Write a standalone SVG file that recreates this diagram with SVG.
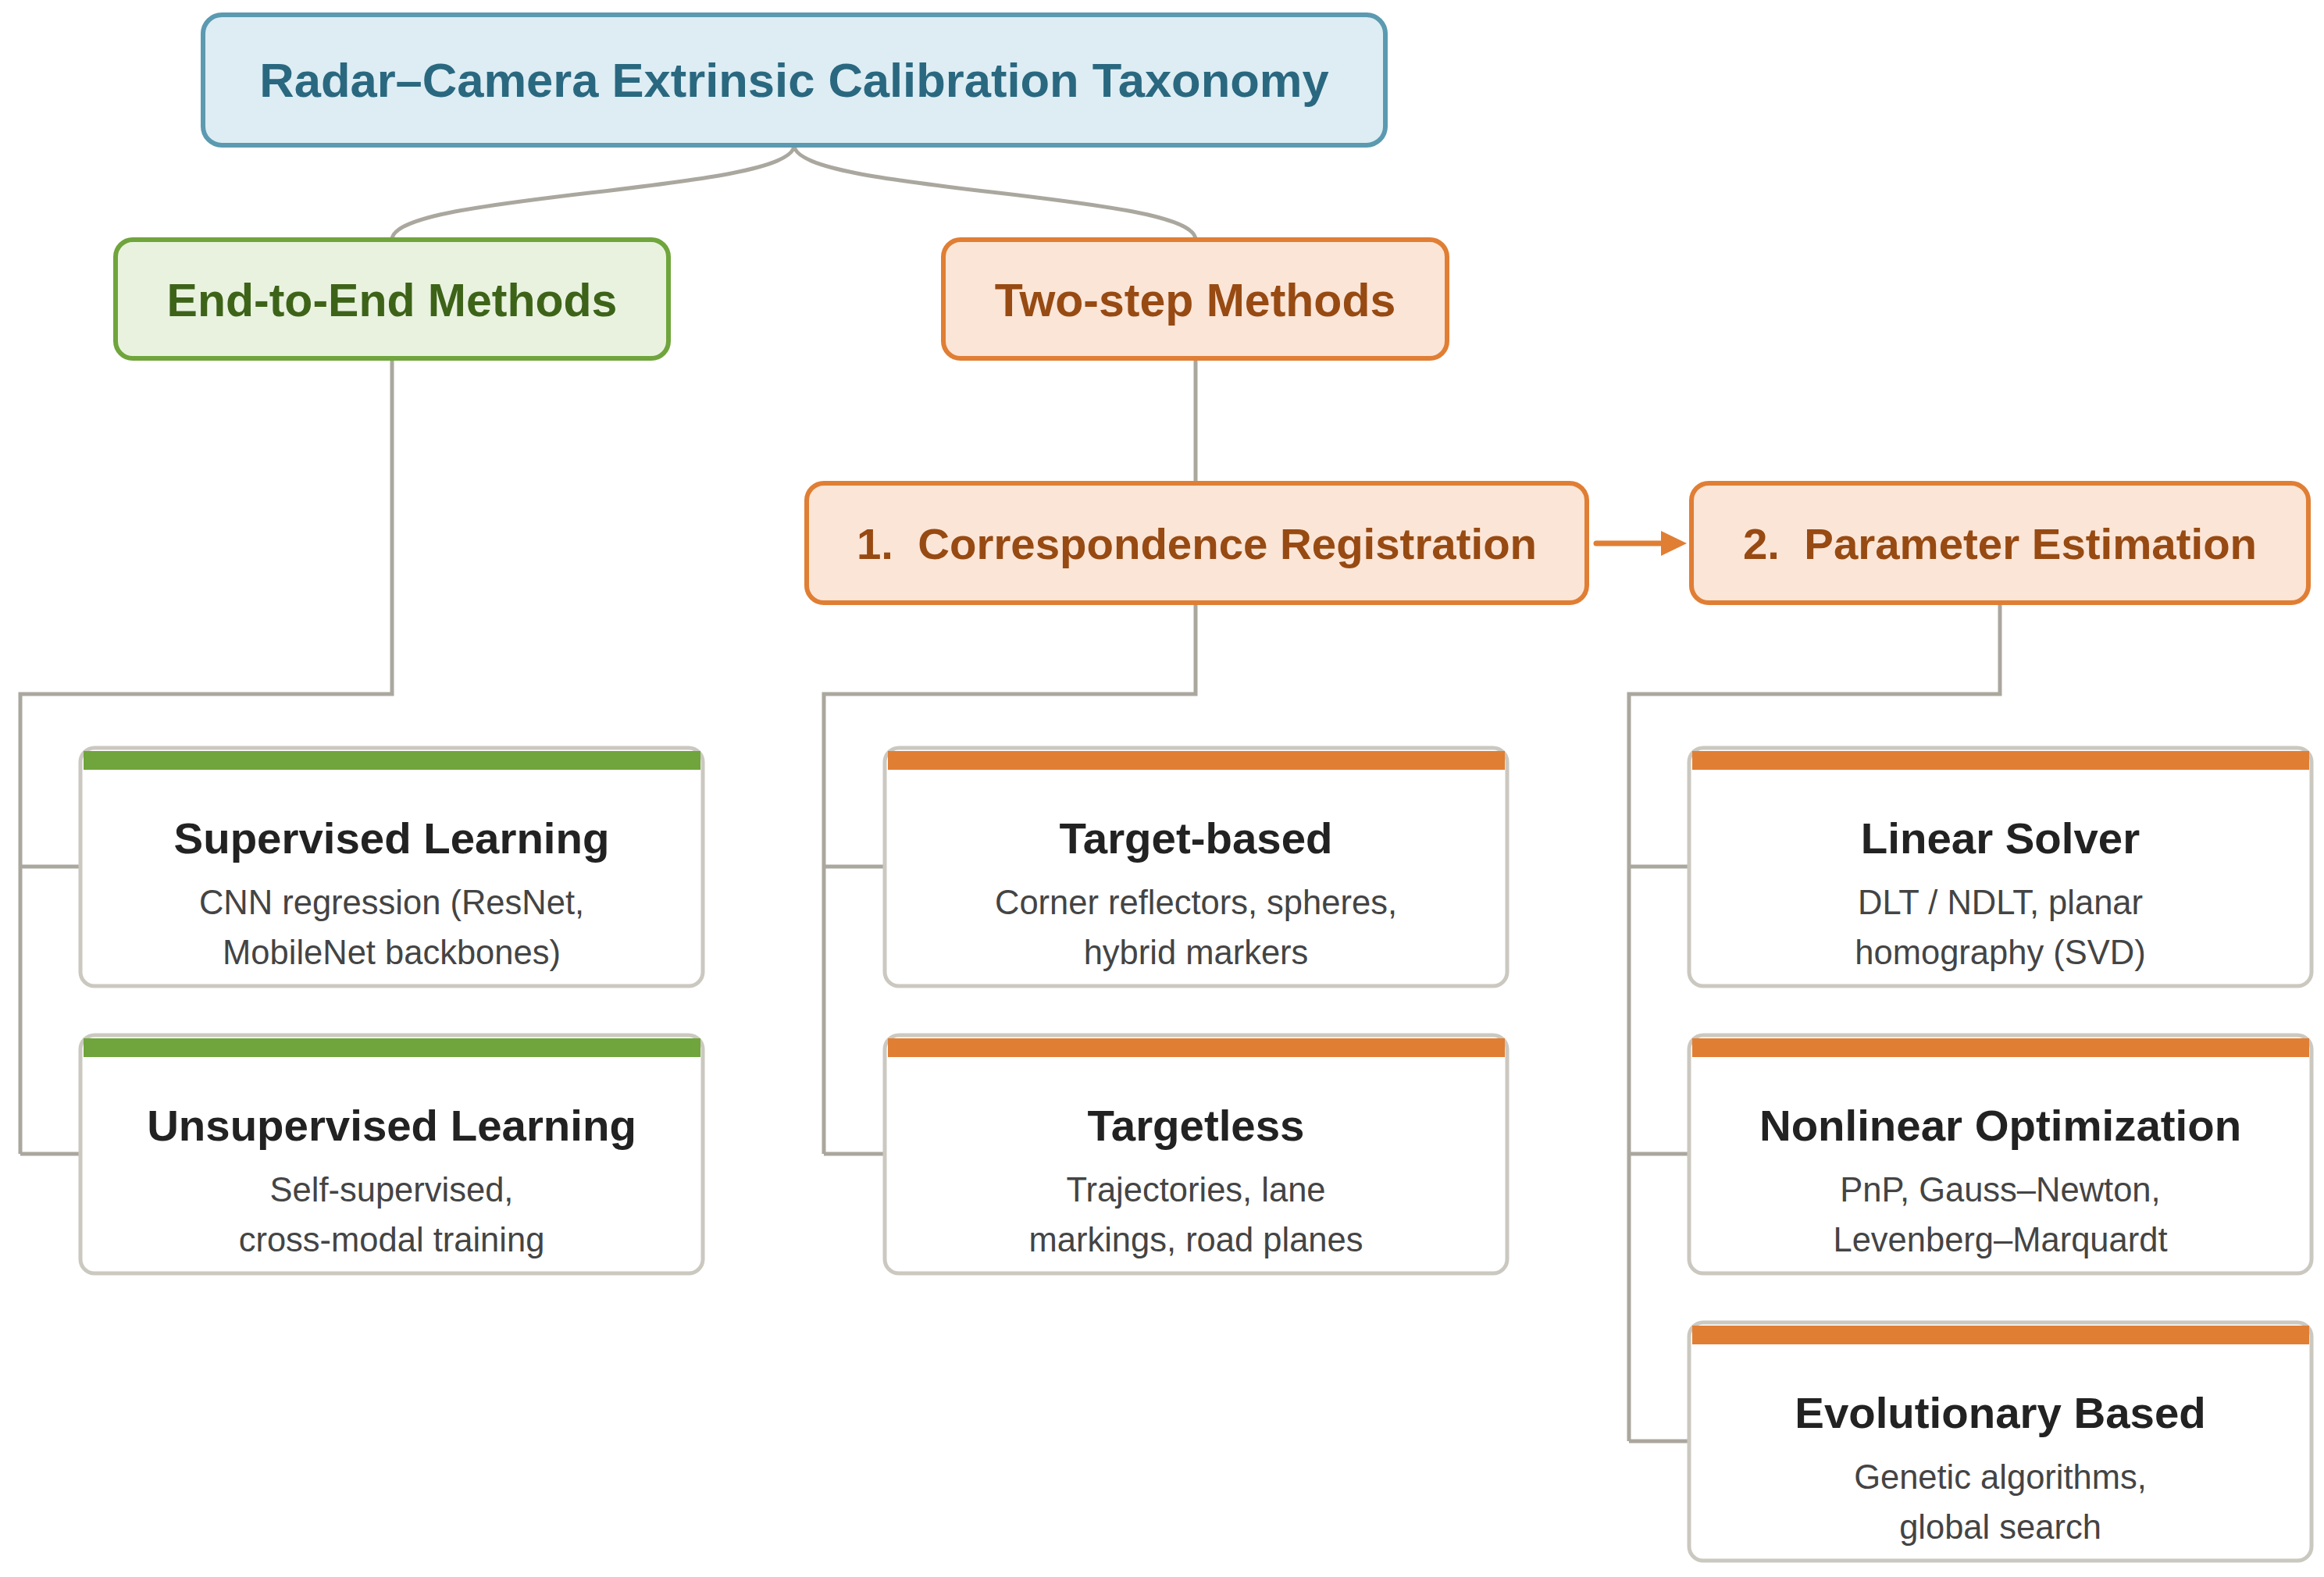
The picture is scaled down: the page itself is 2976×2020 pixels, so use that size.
<svg xmlns="http://www.w3.org/2000/svg" width="2976" height="2020" viewBox="0 0 2976 2020">
<defs>
<style>
.bg{fill:#ffffff}
.conn{fill:none;stroke:#aaa79e;stroke-width:5}
.root rect{fill:#ddedf3;stroke:#5b9ab0;stroke-width:6}
.root text{fill:#2a6880;font-family:"Liberation Sans",Arial,sans-serif;font-weight:bold;font-size:61.5px;text-anchor:middle}
.g1 rect{fill:#e9f2df;stroke:#6fa53c;stroke-width:6}
.g1 text{fill:#3d6318;font-family:"Liberation Sans",Arial,sans-serif;font-weight:bold;font-size:59px;text-anchor:middle}
.o1 rect{fill:#fbe5d7;stroke:#e07e34;stroke-width:6}
.o1 text{fill:#974a12;font-family:"Liberation Sans",Arial,sans-serif;font-weight:bold;font-size:59px;text-anchor:middle}
.o2 rect{fill:#fbe5d7;stroke:#e07e34;stroke-width:6}
.o2 text{fill:#974a12;font-family:"Liberation Sans",Arial,sans-serif;font-weight:bold;font-size:56.4px;text-anchor:middle}
.card .box{fill:#ffffff;stroke:#cbc8c0;stroke-width:5}
.card .barg{fill:#6fa53c}
.card .baro{fill:#e07e34}
.card .t{fill:#222222;font-family:"Liberation Sans",Arial,sans-serif;font-weight:bold;font-size:56.4px;text-anchor:middle}
.card .d{fill:#444444;font-family:"Liberation Sans",Arial,sans-serif;font-size:43.5px;text-anchor:middle}
.arrow{fill:none;stroke:#e07e34;stroke-width:7;stroke-linecap:round}
</style>
<marker id="ah" markerUnits="userSpaceOnUse" markerWidth="34" markerHeight="34" refX="1" refY="16" orient="auto">
<path d="M0,0 L33,16 L0,32 Z" fill="#e07e34"/>
</marker>
</defs>
<rect class="bg" x="0" y="0" width="2976" height="2020"/>

<g id="connectors">
<path class="conn" d="M1017,186 C1017,246.5 502,246.5 502,307"/>
<path class="conn" d="M1017,186 C1017,246.5 1531,246.5 1531,307"/>
<path class="conn" d="M502,459 V889 H26 V1478"/>
<path class="conn" d="M26,1110 H103 M26,1478 H103"/>
<path class="conn" d="M1531,459 V619"/>
<path class="conn" d="M1531,772 V889 H1055 V1478"/>
<path class="conn" d="M1055,1110 H1133 M1055,1478 H1133"/>
<path class="conn" d="M2561,772 V889 H2086 V1846"/>
<path class="conn" d="M2086,1110 H2163 M2086,1478 H2163 M2086,1846 H2163"/>
<path class="arrow" d="M2044,696 H2128" marker-end="url(#ah)"/>
</g>

<g id="root" class="root">
<rect x="260" y="19" width="1514" height="167" rx="24"/>
<text x="1017" y="124">Radar–Camera Extrinsic Calibration Taxonomy</text>
</g>

<g id="end-to-end" class="g1">
<rect x="148" y="307" width="708" height="152" rx="22"/>
<text x="502" y="405">End-to-End Methods</text>
</g>

<g id="two-step" class="o1">
<rect x="1208" y="307" width="645" height="152" rx="22"/>
<text x="1530.5" y="405">Two-step Methods</text>
</g>

<g id="correspondence" class="o2">
<rect x="1033" y="619" width="999" height="153" rx="22"/>
<text x="1532.5" y="716">1.&#160; Correspondence Registration</text>
</g>

<g id="parameter" class="o2">
<rect x="2166" y="619" width="790" height="153" rx="22"/>
<text x="2561" y="716">2.&#160; Parameter Estimation</text>
</g>

<g id="supervised" class="card">
<rect class="box" x="103" y="958" width="797" height="305" rx="18"/>
<rect class="barg" x="107" y="962" width="790" height="24"/>
<text class="t" x="501.5" y="1093">Supervised Learning</text>
<text class="d" x="501.5" y="1171">CNN regression (ResNet,</text>
<text class="d" x="501.5" y="1235">MobileNet backbones)</text>
</g>

<g id="unsupervised" class="card">
<rect class="box" x="103" y="1326" width="797" height="305" rx="18"/>
<rect class="barg" x="107" y="1330" width="790" height="24"/>
<text class="t" x="501.5" y="1461">Unsupervised Learning</text>
<text class="d" x="501.5" y="1539">Self-supervised,</text>
<text class="d" x="501.5" y="1603">cross-modal training</text>
</g>

<g id="target-based" class="card">
<rect class="box" x="1133" y="958" width="797" height="305" rx="18"/>
<rect class="baro" x="1137" y="962" width="790" height="24"/>
<text class="t" x="1531.5" y="1093">Target-based</text>
<text class="d" x="1531.5" y="1171">Corner reflectors, spheres,</text>
<text class="d" x="1531.5" y="1235">hybrid markers</text>
</g>

<g id="targetless" class="card">
<rect class="box" x="1133" y="1326" width="797" height="305" rx="18"/>
<rect class="baro" x="1137" y="1330" width="790" height="24"/>
<text class="t" x="1531.5" y="1461">Targetless</text>
<text class="d" x="1531.5" y="1539">Trajectories, lane</text>
<text class="d" x="1531.5" y="1603">markings, road planes</text>
</g>

<g id="linear-solver" class="card">
<rect class="box" x="2163" y="958" width="797" height="305" rx="18"/>
<rect class="baro" x="2167" y="962" width="790" height="24"/>
<text class="t" x="2561.5" y="1093">Linear Solver</text>
<text class="d" x="2561.5" y="1171">DLT / NDLT, planar</text>
<text class="d" x="2561.5" y="1235">homography (SVD)</text>
</g>

<g id="nonlinear" class="card">
<rect class="box" x="2163" y="1326" width="797" height="305" rx="18"/>
<rect class="baro" x="2167" y="1330" width="790" height="24"/>
<text class="t" x="2561.5" y="1461">Nonlinear Optimization</text>
<text class="d" x="2561.5" y="1539">PnP, Gauss–Newton,</text>
<text class="d" x="2561.5" y="1603">Levenberg–Marquardt</text>
</g>

<g id="evolutionary" class="card">
<rect class="box" x="2163" y="1694" width="797" height="305" rx="18"/>
<rect class="baro" x="2167" y="1698" width="790" height="24"/>
<text class="t" x="2561.5" y="1829">Evolutionary Based</text>
<text class="d" x="2561.5" y="1907">Genetic algorithms,</text>
<text class="d" x="2561.5" y="1971">global search</text>
</g>
</svg>
